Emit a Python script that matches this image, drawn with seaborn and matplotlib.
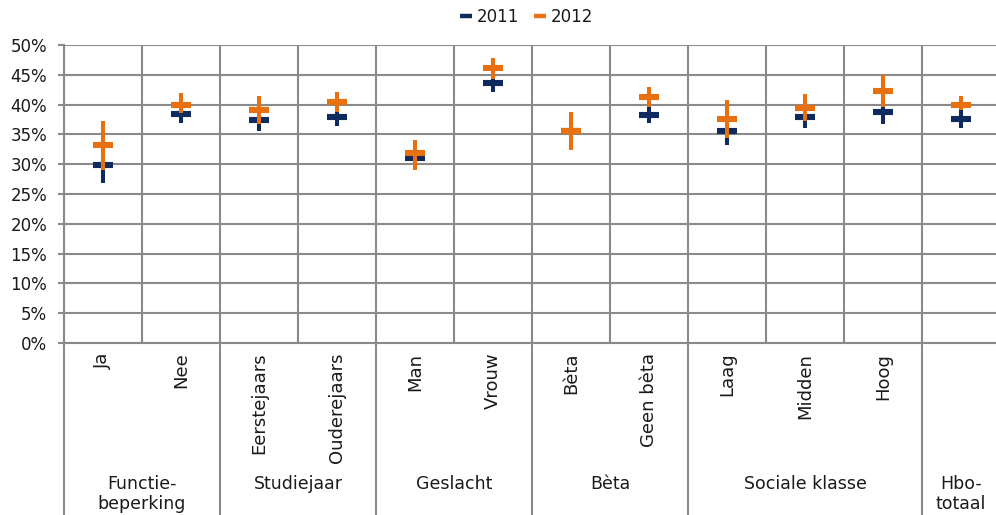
import numpy as np
import pandas as pd
import matplotlib
matplotlib.use("Agg")
import matplotlib.pyplot as plt
import matplotlib.transforms as mtransforms
from matplotlib.lines import Line2D
from matplotlib.ticker import PercentFormatter
import seaborn as sns

# Subgroups (Hbo-totaal has no subgroup label of its own)
categories = ["Ja", "Nee", "Eerstejaars", "Ouderejaars", "Man", "Vrouw",
              "Bèta", "Geen bèta", "Laag", "Midden", "Hoog", ""]
groups = ["Functie-\nbeperking", "Studiejaar", "Geslacht", "Bèta",
          "Sociale klasse", "Hbo-\ntotaal"]
group_sizes = [2, 2, 2, 2, 3, 1]

# Percentages with lower / upper bound of the interval
value_2011 = [29.9, 38.5, 37.4, 37.9, 31.0, 43.6, 35.5, 38.3, 35.6, 37.9, 38.8, 37.6]
low_2011 = [26.8, 36.9, 35.6, 36.4, 29.6, 42.1, 32.6, 36.9, 33.2, 36.0, 36.7, 36.1]
high_2011 = [33.0, 40.1, 39.2, 39.4, 32.4, 45.1, 38.4, 39.7, 38.0, 39.8, 40.9, 39.1]

value_2012 = [33.2, 40.0, 39.1, 40.4, 31.8, 46.1, 35.5, 41.3, 37.6, 39.5, 42.3, 40.0]
low_2012 = [29.0, 38.6, 36.8, 38.7, 29.0, 44.3, 32.4, 39.6, 34.4, 37.2, 39.6, 39.1]
high_2012 = [37.2, 41.9, 41.4, 42.1, 34.1, 47.9, 38.8, 43.0, 40.8, 41.8, 45.0, 41.4]

years = ["2011", "2012"]
colors = {"2011": "#0E2B5F", "2012": "#E8700E"}

pos = np.arange(len(categories))
df = pd.concat([
    pd.DataFrame({"pos": pos, "year": "2011", "value": value_2011,
                  "low": low_2011, "high": high_2011}),
    pd.DataFrame({"pos": pos, "year": "2012", "value": value_2012,
                  "low": low_2012, "high": high_2012}),
], ignore_index=True)

sns.set_theme(style="white")
plt.rcParams["font.family"] = ["DejaVu Sans"]
text_color = "#1a1a1a"
grid_color = "#8a8a8a"
fs_tick = 12
fs_cat = 13
fs_group = 12.5

W, H = 996, 515
fig = plt.figure(figsize=(W / 100, H / 100), dpi=100)
ax = fig.add_axes([64 / W, 1 - 343 / H, 936 / W, (343 - 45) / H])

# Interval lines and value dashes, 2012 drawn on top of 2011
z = 3
for yr in years:
    d = df[df["year"] == yr]
    ax.vlines(d["pos"], d["low"], d["high"], color=colors[yr], lw=2.9, zorder=z)
    sns.pointplot(data=d, x="pos", y="value", order=list(pos), color=colors[yr],
                  markers="_", linestyles="none", errorbar=None,
                  markersize=14, markeredgewidth=4.4, zorder=z + 1, ax=ax)
    z += 2

ax.set_xlim(-0.5, len(categories) - 0.5)
ax.set_ylim(0, 50)
ax.set_yticks(np.arange(0, 51, 5))
ax.yaxis.set_major_formatter(PercentFormatter(100, decimals=0))
ax.set_xlabel("")
ax.set_ylabel("")

# Gridlines: horizontal every 5%, vertical at every category boundary
ax.grid(axis="y", color=grid_color, lw=1.5, zorder=0)
ax.set_xticks(np.arange(-0.5, len(categories), 1), minor=True)
ax.grid(axis="x", which="minor", color=grid_color, lw=1.5, zorder=0)
ax.grid(axis="x", which="major", visible=False)
ax.set_axisbelow(True)

ax.set_xticks(pos)
ax.set_xticklabels(categories, rotation=90, fontsize=fs_cat, color=text_color)
ax.tick_params(axis="x", which="both", length=0, pad=7)
ax.tick_params(axis="y", which="major", left=True, length=4, width=1.5,
               color=grid_color, labelsize=fs_tick, labelcolor=text_color, pad=8)

for s in ["top", "right"]:
    ax.spines[s].set_visible(False)
for s in ["left", "bottom"]:
    ax.spines[s].set_color(grid_color)
    ax.spines[s].set_linewidth(1.5)

# Group separators below the axis and group names
trans = mtransforms.blended_transform_factory(ax.transData, ax.transAxes)
ax_h = (343 - 45)
y_bottom = -(H - 343) / ax_h
y_group = -(475 - 343) / ax_h
edges = np.concatenate([[0], np.cumsum(group_sizes)]) - 0.5
for e in edges:
    ax.plot([e, e], [0, y_bottom], transform=trans, color=grid_color, lw=1.5,
            clip_on=False, zorder=1)
for g, a, b in zip(groups, edges[:-1], edges[1:]):
    ax.text((a + b) / 2, y_group, g, transform=trans, ha="center", va="top",
            multialignment="center", fontsize=fs_group, color=text_color,
            linespacing=1.15)

# Legend
handles = [Line2D([], [], color=colors[yr], marker="_", linestyle="none",
                  markersize=8, markeredgewidth=3.2) for yr in years]
fig.legend(handles, years, loc="center", bbox_to_anchor=(527 / W, 1 - 17 / H),
           ncol=2, frameon=False, fontsize=fs_tick, handlelength=0.6,
           handletextpad=0.3, columnspacing=1.0, labelcolor=text_color)

fig.savefig("out.png", dpi=100)
